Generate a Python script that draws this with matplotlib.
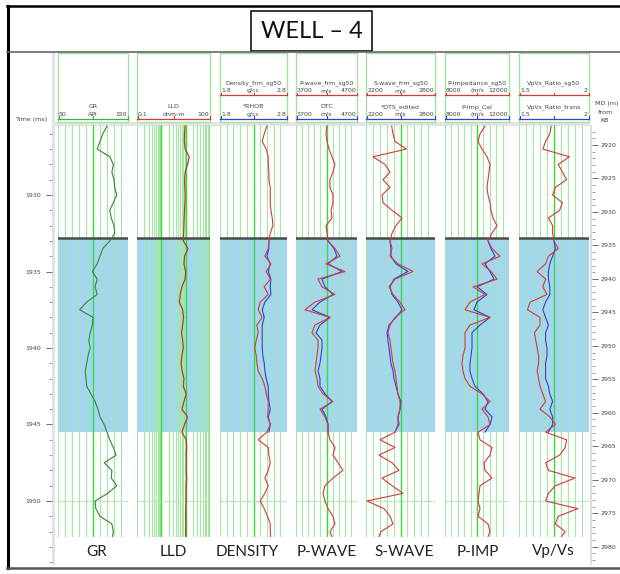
import numpy as np
import matplotlib
matplotlib.use('Agg')
import matplotlib.pyplot as plt
from matplotlib.patches import Rectangle
from matplotlib.ticker import MultipleLocator

W, H = 620, 574

# ---- data ----
# two-way time samples (ms), one every 0.5 ms
twt = np.arange(1925.5, 1952.75, 0.5)
# samples inside the blue (target) zone, where the second curve exists
twt_zone = np.arange(1933.0, 1945.75, 0.5)
zone_top, zone_base = 1932.83, 1945.46

gr = [120, 114, 110, 106, 124, 129, 127, 130, 131, 134,
      129, 124, 126, 130, 131, 124, 114, 110, 106, 99,
      106, 103, 106, 91, 81, 100, 99, 96, 94, 96,
      93, 91, 89, 90, 91, 97, 103, 107, 110, 116,
      120, 124, 129, 133, 116, 127, 126, 134, 121, 103,
      104, 110, 127, 129, 127]
lld = [9.4, 9.0, 8.8, 9.5, 14, 12, 9.5, 9.0, 9.2, 9.5,
       9.3, 9.0, 8.7, 8.5, 8.3, 8.0, 12.5, 9.0, 8.5, 10,
       9.5, 7.0, 6.0, 5.5, 7.5, 8.2, 7.5, 6.8, 7.5, 8.0,
       7.0, 6.5, 7.2, 8.5, 8.0, 10.5, 8.5, 7.0, 12, 9.0,
       7.0, 10.5, 11, 10.5, 10.8, 10.5, 11, 10.5, 10.2, 10.5,
       10, 10, 10.2, 10, 10]
dens_sg50 = [2.50, 2.46, 2.43, 2.49, 2.52, 2.52, 2.53, 2.53, 2.55, 2.55,
             2.55, 2.56, 2.58, 2.59, 2.55, 2.53, 2.52, 2.47, 2.56, 2.49,
             2.55, 2.46, 2.52, 2.40, 2.37, 2.43, 2.35, 2.37, 2.34, 2.32,
             2.34, 2.35, 2.37, 2.43, 2.47, 2.49, 2.52, 2.52, 2.51, 2.55,
             2.50, 2.37, 2.52, 2.53, 2.55, 2.52, 2.47, 2.52, 2.47, 2.40,
             2.46, 2.51, 2.55, 2.55, 2.56]
rhob = [2.53, 2.53, 2.50, 2.55, 2.52, 2.56, 2.55, 2.56, 2.47, 2.43,
        2.46, 2.43, 2.43, 2.43, 2.43, 2.44, 2.46, 2.47, 2.49, 2.52,
        2.52, 2.53, 2.55, 2.52, 2.55, 2.53]
pwave_sg50 = [4203, 4192, 4208, 4241, 4290, 4339, 4306, 4257, 4257, 4306,
              4306, 4274, 4290, 4192, 4208, 4225, 4339, 4421, 4192, 4503,
              4061, 4126, 4339, 4011, 3847, 4257, 4011, 3962, 4061, 4061,
              4044, 4028, 4011, 4044, 4061, 4143, 4306, 4093, 4175, 4225,
              4225, 4257, 4339, 4306, 4389, 4470, 4306, 4175, 4143, 4175,
              4225, 4306, 4339, 4257, 4306]
dtc = [4225, 4323, 4372, 4225, 4454, 4126, 4175, 4306, 4093, 3962,
       4257, 4093, 4028, 4126, 4126, 4110, 4093, 4061, 4093, 4093,
       4175, 4290, 4126, 4192, 4225, 4225]
swave_sg50 = [2423, 2435, 2452, 2552, 2261, 2365, 2409, 2348, 2409, 2339,
              2348, 2426, 2513, 2461, 2426, 2409, 2426, 2409, 2478, 2609,
              2452, 2400, 2435, 2496, 2539, 2452, 2409, 2391, 2409, 2417,
              2426, 2435, 2452, 2461, 2470, 2478, 2496, 2496, 2478, 2478,
              2452, 2322, 2452, 2313, 2426, 2487, 2339, 2426, 2522, 2209,
              2357, 2409, 2435, 2330, 2304]
dts_edited = [2409, 2417, 2417, 2461, 2565, 2443, 2409, 2426, 2478, 2513,
              2461, 2400, 2383, 2391, 2400, 2409, 2417, 2435, 2443, 2461,
              2478, 2504, 2496, 2478, 2487, 2452]
pimp_sg50 = [10500, 10188, 10063, 10313, 10625, 10813, 10750, 10688, 10625, 10688,
             10813, 10875, 11000, 11250, 10938, 10688, 10938, 11438, 10313, 10875,
             11250, 9750, 10500, 9563, 9250, 10813, 9563, 9250, 9250, 9250,
             9125, 9063, 9125, 9250, 9563, 10313, 10813, 10313, 10688, 10813,
             10063, 10188, 10938, 10813, 10438, 10500, 10938, 10188, 10125, 10063,
             10188, 10063, 10688, 10813, 10625]
pimp_cal = [10688, 10875, 11125, 10500, 10813, 11063, 10000, 10625, 10000, 9813,
            10813, 10188, 9688, 9688, 9688, 9625, 9563, 9563, 9688, 9875,
            10375, 10688, 10500, 10938, 10813, 10500]
vpvs_sg50 = [1.73, 1.72, 1.69, 1.67, 1.86, 1.78, 1.81, 1.84, 1.76, 1.74,
             1.81, 1.79, 1.71, 1.74, 1.74, 1.75, 1.78, 1.71, 1.69, 1.63,
             1.69, 1.67, 1.70, 1.58, 1.56, 1.65, 1.65, 1.61, 1.62, 1.63,
             1.64, 1.64, 1.63, 1.64, 1.65, 1.67, 1.69, 1.65, 1.72, 1.76,
             1.69, 1.84, 1.83, 1.79, 1.69, 1.71, 1.90, 1.76, 1.71, 1.69,
             1.92, 1.78, 1.76, 1.83, 1.79]
vpvs_trans = [1.75, 1.76, 1.74, 1.72, 1.71, 1.71, 1.72, 1.72, 1.69, 1.67,
              1.69, 1.71, 1.69, 1.69, 1.70, 1.70, 1.69, 1.69, 1.69, 1.71,
              1.72, 1.74, 1.72, 1.74, 1.74, 1.71]

bottom_labels = ['GR', 'LLD', 'DENSITY', 'P-WAVE', 'S-WAVE', 'P-IMP', 'Vp/Vs']

# ---- layout (pixels of the 620x574 picture) ----
RED, BLUE, GRC = '#d43a3a', '#3b3bd6', '#3f7f3f'
LIGHT_G, BRIGHT_G = '#a3e8a3', '#35e035'
ZONE_C = '#a4d6f4'
DATA_TOP, DATA_BOT, AX_BOT = 125, 537, 565


def t_of(y):
    return 1930 + (y - 195) / 15.3


def md_of(y):
    return 2920 + (y - 145) / 6.695


def box(x0, y0, x1, y1):
    return [x0 / W, 1 - y1 / H, (x1 - x0) / W, (y1 - y0) / H]


fig = plt.figure(figsize=(W / 100, H / 100), dpi=100)
ov = fig.add_axes([0, 0, 1, 1])
ov.set_xlim(0, W)
ov.set_ylim(H, 0)
ov.axis('off')

# frame
ov.plot([7, 620], [6, 6], color='black', lw=1.8)
ov.plot([7.5, 7.5], [6, 568], color='black', lw=2.2)
ov.plot([7, 620], [51.5, 51.5], color='#666666', lw=1.2)
ov.plot([7, 620], [567.5, 567.5], color='#555555', lw=1.8)
ov.add_patch(Rectangle((251, 11), 121, 40, fc='white', ec='black', lw=1.1))
ov.text(311.5, 32, 'WELL \u2013 4', ha='center', va='center', fontsize=17,
        family=['Lato', 'DejaVu Sans'], color='#111111')

# grey bands of the time axis and under the headers
ov.add_patch(Rectangle((52, 52.5), 3, DATA_TOP - 52.5, fc='#e2e2e2', ec='none'))
ov.add_patch(Rectangle((52, 121.5), 538, 4, fc='#e4e4e4', ec='none'))
ov.text(15, 120, 'Time (ms)', ha='left', va='center', fontsize=4.6, color='#444444')
ov.text(595, 103, 'MD (m)', ha='left', va='center', fontsize=4.6, color='#444444')
ov.text(597.5, 112.5, 'from', ha='left', va='center', fontsize=4.6, color='#444444')
ov.text(600, 120, 'KB', ha='left', va='center', fontsize=4.6, color='#444444')

hkw = dict(va='center', fontsize=4.5, color='#444444')


def header_curve(x0, x1, yname, name, left, unit, right, color):
    xm = (x0 + x1) / 2
    ov.text(xm, yname, name, ha='center', **hkw)
    ov.text(x0 + 1, yname + 7.5, left, ha='left', **hkw)
    ov.text(xm, yname + 7.5, unit, ha='center', **hkw)
    ov.text(x1 - 1, yname + 7.5, right, ha='right', **hkw)
    yl = yname + 11.8
    ov.plot([x0, x1], [yl, yl], color=color, lw=0.9)
    for xx in (x0 + 0.5, xm, x1 - 0.5):
        ov.plot([xx, xx], [yl - 2.2, yl + 0.3], color=color, lw=0.8)


def make_track(x0, x1, lim, log=False):
    ov.add_patch(Rectangle((x0, 52.5), x1 - x0, 69, fc='none', ec='#9fe39f', lw=1))
    ax = fig.add_axes(box(x0, DATA_TOP, x1, DATA_BOT))
    if log:
        ax.set_xscale('log')
        lines = [d * m for d in (0.1, 1, 10) for m in range(1, 10)] + [100]
        major = [1, 10, 100]
    else:
        lines = list(np.linspace(lim[0], lim[1], 11))
        major = [lines[5]]
    ax.set_xlim(lim)
    ax.set_ylim(t_of(DATA_BOT), t_of(DATA_TOP))
    ax.axis('off')
    ax.axhspan(zone_base, zone_top, color=ZONE_C, lw=0, zorder=0)
    for v in lines:
        bright = any(abs(v - m) < 1e-9 for m in major)
        ax.axvline(v, color=BRIGHT_G if bright else LIGHT_G,
                   lw=1.0 if bright else 0.8, zorder=1)
    ax.axhline(1950, color=LIGHT_G, lw=0.8, ls=(0, (3, 1)), zorder=1)
    ax.axhline(zone_top, color='#4a4a4a', lw=1.8, zorder=3)
    return ax


# GR
ax = make_track(58, 128, (50, 150))
header_curve(58, 128, 106.7, 'GR', '50', 'API', '150', '#3fae3f')
ax.plot(gr, twt, color=GRC, lw=0.8, zorder=4)

# LLD
ax = make_track(137, 210, (0.1, 100), log=True)
header_curve(137, 210, 106.7, 'LLD', '0.1', 'ohm-m', '100', RED)
ax.plot(lld, twt, color='#b53a2a', lw=0.9, zorder=4)

# Density
ax = make_track(220, 287, (1.8, 2.8))
header_curve(220, 287, 83.3, 'Density_frm_sg50', '1.8', 'g/cc', '2.8', RED)
header_curve(220, 287, 106.7, '*RHOB', '1.8', 'g/cc', '2.8', BLUE)
ax.plot(rhob, twt_zone, color=BLUE, lw=0.8, zorder=4)
ax.plot(dens_sg50, twt, color=RED, lw=0.8, zorder=5)

# P-wave
ax = make_track(296, 357, (3700, 4700))
header_curve(296, 357, 83.3, 'P-wave_frm_sg50', '3700', 'm/s', '4700', RED)
header_curve(296, 357, 106.7, 'DTC', '3700', 'm/s', '4700', BLUE)
ax.plot(dtc, twt_zone, color=BLUE, lw=0.8, zorder=4)
ax.plot(pwave_sg50, twt, color=RED, lw=0.8, zorder=5)

# S-wave
ax = make_track(366, 435, (2200, 2800))
header_curve(366, 435, 83.3, 'S-wave_frm_sg50', '2200', 'm/s', '2800', RED)
header_curve(366, 435, 106.7, '*DTS_edited', '2200', 'm/s', '2800', BLUE)
ax.plot(dts_edited, twt_zone, color=BLUE, lw=0.8, zorder=4)
ax.plot(swave_sg50, twt, color=RED, lw=0.8, zorder=5)

# P-impedance
ax = make_track(445, 509, (8000, 12000))
header_curve(445, 509, 83.3, 'P-Impedance_sg50', '8000', '(m/s', '12000', RED)
header_curve(445, 509, 106.7, 'P-Imp_Cal', '8000', '(m/s', '12000', BLUE)
ax.plot(pimp_cal, twt_zone, color=BLUE, lw=0.8, zorder=4)
ax.plot(pimp_sg50, twt, color=RED, lw=0.8, zorder=5)

# Vp/Vs
ax = make_track(519, 589, (1.5, 2.0))
header_curve(519, 589, 83.3, 'VpVs_Ratio_sg50', '1.5', '', '2', RED)
header_curve(519, 589, 106.7, 'VpVs_Ratio_trans', '1.5', '', '2', BLUE)
ax.plot(vpvs_trans, twt_zone, color=BLUE, lw=0.8, zorder=4)
ax.plot(vpvs_sg50, twt, color=RED, lw=0.8, zorder=5)

# time axis (left)
at = fig.add_axes(box(52, DATA_TOP, 55, AX_BOT))
at.set_ylim(t_of(AX_BOT), t_of(DATA_TOP))
at.set_facecolor('#e2e2e2')
for s in at.spines.values():
    s.set_visible(False)
at.set_xticks([])
at.yaxis.set_major_locator(MultipleLocator(5))
at.yaxis.set_minor_locator(MultipleLocator(1))
at.tick_params(axis='y', which='major', length=4, width=0.6, color='#555555',
               labelsize=4.5, labelcolor='#444444', pad=4)
at.tick_params(axis='y', which='minor', length=2, width=0.5, color='#777777')

# measured depth axis (right)
am = fig.add_axes(box(590, DATA_TOP, 592, AX_BOT))
am.set_ylim(md_of(AX_BOT), md_of(DATA_TOP))
am.set_facecolor('#dcdcdc')
for s in am.spines.values():
    s.set_visible(False)
am.set_xticks([])
am.yaxis.tick_right()
am.yaxis.set_major_locator(MultipleLocator(5))
am.yaxis.set_minor_locator(MultipleLocator(1))
am.tick_params(axis='y', which='major', length=4, width=0.6, color='#555555',
               labelsize=4.5, labelcolor='#444444', pad=2)
am.tick_params(axis='y', which='minor', length=2, width=0.5, color='#777777')

# names under the tracks
label_x = [97, 173, 247, 326.5, 404, 478, 553]
for name, xc in zip(bottom_labels, label_x):
    ov.text(xc, 551.5, name, ha='center', va='center', fontsize=11,
            family=['Lato', 'DejaVu Sans'], color='#222222')

fig.savefig('out.png', dpi=100)
